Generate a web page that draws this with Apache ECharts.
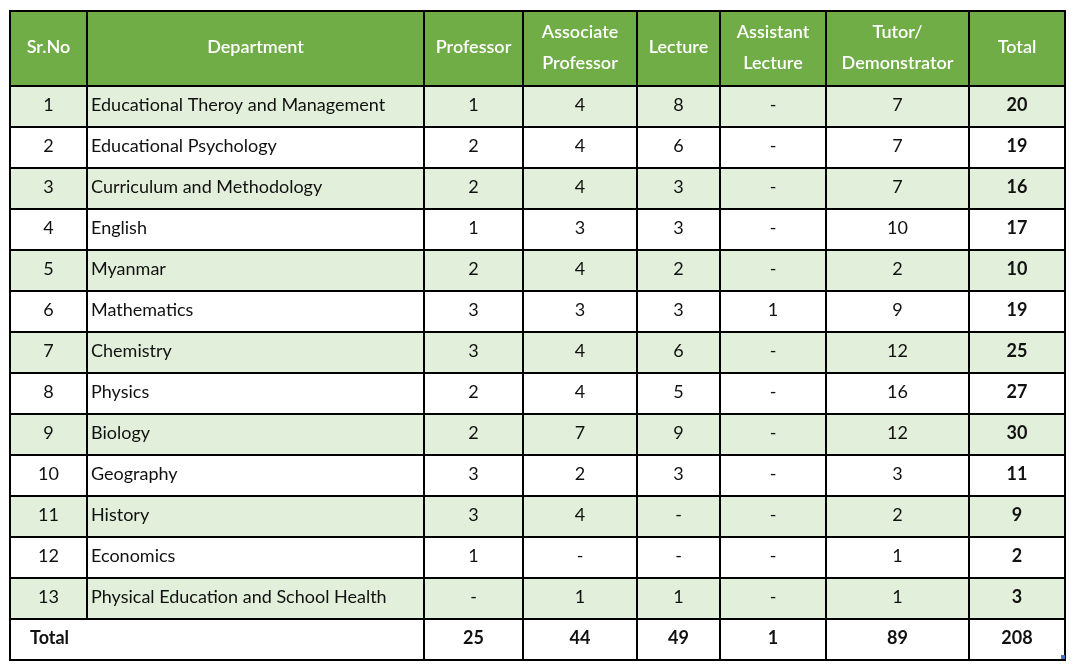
<!DOCTYPE html>
<html>
<head>
<meta charset="utf-8">
<script src="https://cdn.jsdelivr.net/npm/echarts@6/dist/echarts.min.js"></script>
<style>
  html, body { margin: 0; padding: 0; background: #ffffff; }
  #chart { width: 1075px; height: 664px; }
</style>
</head>
<body>
<div id="chart"></div>
<script>
// Column headers
const headers = ['Sr.No', 'Department', 'Professor', 'Associate\nProfessor', 'Lecture',
  'Assistant\nLecture', 'Tutor/\nDemonstrator', 'Total'];

// Table rows (null = "-")
const srNo = [1, 2, 3, 4, 5, 6, 7, 8, 9, 10, 11, 12, 13];
const departments = [
  'Educational Theroy and Management',
  'Educational Psychology',
  'Curriculum and Methodology',
  'English',
  'Myanmar',
  'Mathematics',
  'Chemistry',
  'Physics',
  'Biology',
  'Geography',
  'History',
  'Economics',
  'Physical Education and School Health'
];
const professor = [1, 2, 2, 1, 2, 3, 3, 2, 2, 3, 3, 1, null];
const associateProfessor = [4, 4, 4, 3, 4, 3, 4, 4, 7, 2, 4, null, 1];
const lecture = [8, 6, 3, 3, 2, 3, 6, 5, 9, 3, null, null, 1];
const assistantLecture = [null, null, null, null, null, 1, null, null, null, null, null, null, null];
const tutorDemonstrator = [7, 7, 7, 10, 2, 9, 12, 16, 12, 3, 2, 1, 1];
const rowTotal = [20, 19, 16, 17, 10, 19, 25, 27, 30, 11, 9, 2, 3];
const totalRow = [25, 44, 49, 1, 89, 208];

// Layout
const colWidths = [77, 337, 99, 114, 83, 106, 143, 96];
const headerHeight = 75;
const rowHeight = 41;
const FONT = 'Lato, "Noto Sans", sans-serif';

const colEdges = [0];
colWidths.forEach((w) => colEdges.push(colEdges[colEdges.length - 1] + w));
const rowCount = srNo.length + 1;
const rowEdges = [0, headerHeight];
for (let i = 0; i < rowCount; i++) rowEdges.push(rowEdges[rowEdges.length - 1] + rowHeight);

const fmt = (v) => (v === null || v === undefined ? '-' : String(v));

// Build cell list
const cells = [];
headers.forEach((h, c) => {
  cells.push({ c0: c, c1: c + 1, r: 0, text: h, fill: '#70ad47', color: '#ffffff', weight: 500, align: 'center' });
});
srNo.forEach((n, i) => {
  const fill = i % 2 === 0 ? '#e2efda' : '#ffffff';
  const vals = [n, departments[i], fmt(professor[i]), fmt(associateProfessor[i]), fmt(lecture[i]),
    fmt(assistantLecture[i]), fmt(tutorDemonstrator[i]), rowTotal[i]];
  vals.forEach((v, c) => {
    cells.push({
      c0: c, c1: c + 1, r: i + 1, text: String(v), fill: fill, color: '#111111',
      weight: c === 7 ? 'bold' : 'normal', align: c === 1 ? 'left' : 'center'
    });
  });
});
const lastRow = srNo.length + 1;
cells.push({ c0: 0, c1: 2, r: lastRow, text: 'Total', fill: '#ffffff', color: '#111111', weight: 'bold', align: 'left', pad: 20 });
totalRow.forEach((v, k) => {
  cells.push({ c0: k + 2, c1: k + 3, r: lastRow, text: String(v), fill: '#ffffff', color: '#111111', weight: 'bold', align: 'center' });
});

const seriesData = cells.map((cell) => [colEdges[cell.c0], colEdges[cell.c1], rowEdges[cell.r], rowEdges[cell.r + 1]]);

const chart = echarts.init(document.getElementById('chart'), null, { renderer: 'canvas' });

chart.setOption({
  backgroundColor: '#ffffff',
  animation: false,
  grid: { left: 10, right: 10, top: 11, bottom: 4 },
  xAxis: { type: 'value', min: 0, max: colEdges[colEdges.length - 1], show: false },
  yAxis: { type: 'value', min: 0, max: rowEdges[rowEdges.length - 1], inverse: true, show: false },
  graphic: [
    { type: 'rect', right: 10, bottom: 5, shape: { width: 4, height: 4 }, style: { fill: '#4472c4' }, z: 100 }
  ],
  series: [
    {
      type: 'custom',
      coordinateSystem: 'cartesian2d',
      data: seriesData,
      renderItem: (params, api) => {
        const cell = cells[params.dataIndex];
        const p0 = api.coord([api.value(0), api.value(2)]);
        const p1 = api.coord([api.value(1), api.value(3)]);
        const x = p0[0], y = p0[1], w = p1[0] - p0[0], h = p1[1] - p0[1];
        const tx = cell.align === 'left' ? x + (cell.pad || 4) : x + w / 2;
        return {
          type: 'group',
          children: [
            {
              type: 'rect',
              shape: { x: x, y: y, width: w, height: h },
              style: { fill: cell.fill, stroke: '#000000', lineWidth: 2 }
            },
            {
              type: 'text',
              x: tx,
              y: y + h / 2 - 1,
              style: {
                text: cell.text,
                fill: cell.color,
                font: (cell.weight === 'bold' ? 'bold ' : cell.weight === 500 ? '600 ' : '') + '18px ' + FONT,
                align: cell.align,
                verticalAlign: 'middle',
                lineHeight: 31
              }
            }
          ]
        };
      }
    }
  ]
});

window.addEventListener('resize', () => chart.resize());
</script>
</body>
</html>
